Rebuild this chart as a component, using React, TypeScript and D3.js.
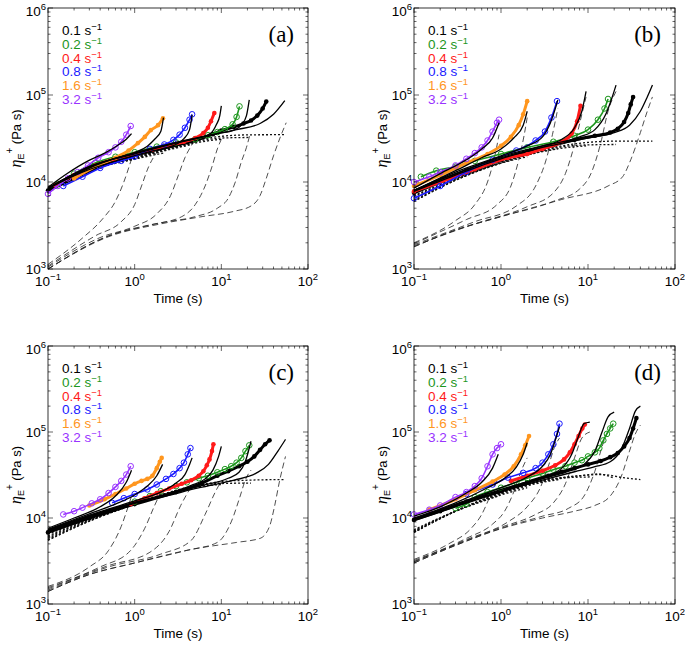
import * as React from "react";
import * as d3 from "d3";

type Pt = [number, number];

// strain rates, in legend order
const rates: string[] = ["0.1", "0.2", "0.4", "0.8", "1.6", "3.2"];
const rateColors: string[] = ["#000000", "#1c961c", "#ff1a1a", "#1a1aff", "#ff961e", "#9933ff"];
const rateFilled: boolean[] = [true, false, true, false, true, false];
const panelNames: string[] = ["(a)", "(b)", "(c)", "(d)"];
const timeDecades: number[] = [-1, 0, 1, 2];
const etaDecades: number[] = [3, 4, 5, 6];

// ---- panel (a) ----
const aData: Pt[][] = [
  [[0.1, 8000], [0.2, 11000], [0.4, 15000], [0.8, 19000], [1.5, 22500], [3, 26500], [5, 30000], [8, 35500], [10, 39000], [14, 43000], [18, 47000], [22, 51000], [26, 58000], [30, 70000], [33, 84000]],
  [[0.13, 9500], [0.2, 12500], [0.35, 16500], [0.6, 19500], [1, 22000], [1.8, 25500], [3, 28500], [5, 31000], [7, 34500], [9, 37500], [11, 40500], [13.5, 46000], [15, 56000], [16.2, 74000]],
  [[0.12, 9200], [0.2, 12000], [0.35, 15500], [0.6, 18500], [1, 21000], [1.6, 23500], [2.5, 26500], [3.7, 29000], [5, 32000], [6.2, 36500], [7, 42000], [7.6, 50000], [8.3, 62000]],
  [[0.15, 9000], [0.25, 11500], [0.4, 14500], [0.7, 17500], [1, 19500], [1.5, 24000], [2.2, 27000], [2.8, 30500], [3.3, 35000], [3.8, 42000], [4.3, 52000], [4.6, 60000]],
  [[0.2, 11000], [0.4, 16000], [0.6, 19000], [0.85, 23000], [1.09, 28000], [1.31, 33000], [1.54, 39500], [1.86, 45000], [2.12, 54000]],
  [[0.1, 7300], [0.13, 9000], [0.17, 11000], [0.22, 13000], [0.29, 15500], [0.38, 19000], [0.5, 22000], [0.6, 25000], [0.7, 29000], [0.8, 35000], [0.9, 44000]],
];
const aSolid: Pt[][] = [
  [[0.1, 8400], [0.3, 15000], [1, 21000], [3, 28000], [8, 35000], [15, 40000], [28, 47000], [40, 60000], [54, 86000]],
  [[0.1, 8500], [0.3, 15000], [1, 21500], [3, 28500], [9, 36000], [14, 39500], [17, 45000], [19.5, 58000], [21, 88000]],
  [[0.1, 8400], [0.4, 16300], [1.5, 24000], [3.7, 29500], [5.8, 32500], [7.6, 36500], [8.8, 46000], [9.6, 58000], [10, 75000]],
  [[0.1, 8500], [0.25, 13000], [0.62, 17600], [1.5, 22400], [2.4, 25000], [3.1, 27500], [3.7, 31500], [4.3, 40000], [4.6, 59000]],
  [[0.1, 8500], [0.16, 11000], [0.25, 13600], [0.4, 16600], [0.62, 19000], [1, 21800], [1.4, 25800], [1.7, 31000], [2, 38000], [2.15, 55000]],
  [[0.1, 8700], [0.17, 12700], [0.29, 17500], [0.45, 21500], [0.64, 26500], [0.8, 31000], [0.92, 36000]],
];
const aDashed: Pt[][] = [
  [[0.1, 1000], [0.5, 2350], [2, 3300], [6, 4000], [14, 4600], [22, 5300], [28, 7000], [33, 11000], [40, 20000], [48, 33000], [56, 48000]],
  [[0.1, 1000], [0.5, 2400], [2, 3400], [5, 4000], [9, 5000], [12, 6500], [14.5, 10000], [17, 17000], [19.5, 25000], [21.2, 34000]],
  [[0.1, 1000], [0.5, 2400], [1.5, 3200], [3.5, 4000], [5, 5500], [6.5, 9000], [7.8, 15000], [9, 24000], [10, 31000]],
  [[0.1, 1050], [0.4, 2300], [1, 3100], [1.8, 4300], [2.6, 7000], [3.2, 12000], [3.8, 19000], [4.6, 27000]],
  [[0.1, 1080], [0.35, 2400], [0.7, 3500], [1, 5500], [1.2, 9000], [1.45, 15000], [1.8, 22000], [2.15, 28000]],
  [[0.1, 1130], [0.25, 2270], [0.43, 3800], [0.6, 6000], [0.75, 10000], [0.88, 16000], [0.93, 19000]],
];
const aDotted: Pt[][] = [
  [[0.1, 7600], [0.3, 13500], [1, 19000], [3, 26000], [6, 31000], [10, 33500], [20, 34800], [55, 35000]],
  [[0.1, 7600], [0.3, 13500], [1, 19000], [3, 25500], [6, 30000], [10, 32000], [21, 32500]],
  [[0.1, 7700], [0.3, 13500], [1, 18800], [3, 25000], [6, 29000], [10, 31000]],
  [[0.1, 7800], [0.3, 13500], [1, 18500], [2.5, 23500], [4.6, 27000]],
  [[0.1, 7900], [0.3, 13500], [1, 18300], [2.15, 21500]],
  [[0.1, 8000], [0.3, 13500], [0.6, 16500], [0.92, 18500]],
];

// ---- panel (b) ----
const bData: Pt[][] = [
  [[0.1, 7500], [0.2, 10000], [0.4, 13500], [1, 18000], [2, 22000], [4, 26500], [7, 30500], [12, 34000], [18, 37000], [22, 41000], [26, 49000], [29, 62000], [31, 78000], [33, 95000]],
  [[0.12, 11500], [0.18, 13500], [0.3, 15000], [0.5, 17500], [1, 21000], [2, 25000], [4, 29000], [7, 34000], [10, 40000], [13, 52000], [15.5, 70000], [17, 90000]],
  [[0.1, 7800], [0.2, 10000], [0.5, 14000], [1.2, 19000], [2, 21000], [3, 24000], [5, 29000], [6.5, 36000], [7.5, 50000], [8.2, 75000]],
  [[0.1, 6500], [0.2, 9000], [0.4, 13000], [0.8, 18000], [1.5, 23000], [2.5, 30000], [3.2, 38000], [3.8, 55000], [4.4, 85000]],
  [[0.1, 9000], [0.2, 12000], [0.4, 16500], [0.7, 21000], [1, 26000], [1.3, 33000], [1.6, 45000], [1.8, 60000], [2, 85000]],
  [[0.1, 10000], [0.15, 11500], [0.2, 13000], [0.3, 15500], [0.4, 18500], [0.5, 21500], [0.6, 25000], [0.7, 30000], [0.8, 38000], [0.9, 48000], [0.95, 52000]],
];
const bSolid: Pt[][] = [
  [[0.1, 7800], [0.3, 12000], [1, 18500], [3, 25000], [10, 32000], [20, 37000], [30, 45000], [40, 65000], [48, 95000], [55, 130000]],
  [[0.1, 8000], [0.3, 12500], [1, 19500], [3, 26000], [8, 33000], [12, 40000], [16, 60000], [19, 95000], [21, 130000]],
  [[0.1, 8000], [0.3, 12500], [1, 19000], [3, 26000], [5, 31000], [7, 42000], [8.5, 65000], [9.5, 110000]],
  [[0.1, 8000], [0.3, 13000], [1, 20000], [2, 26000], [3, 33000], [3.7, 48000], [4.3, 75000], [4.5, 88000]],
  [[0.1, 8000], [0.3, 13500], [0.6, 19000], [1, 24000], [1.4, 32000], [1.8, 45000], [2, 65000]],
  [[0.1, 8500], [0.2, 12500], [0.4, 18000], [0.6, 24000], [0.8, 32000], [0.95, 48000]],
];
const bDashed: Pt[][] = [
  [[0.1, 1800], [0.3, 2800], [1, 4000], [5, 6300], [17, 9000], [25, 11500], [31, 18000], [40, 37000], [48, 65000], [55, 95000]],
  [[0.1, 1800], [0.3, 2800], [1, 4000], [4, 6000], [8, 8300], [11, 13000], [14, 28000], [17, 65000], [21, 110000]],
  [[0.1, 1850], [0.5, 3300], [2, 5200], [4, 7500], [5.5, 12500], [7, 27000], [8.5, 60000], [9.5, 95000]],
  [[0.1, 1900], [0.5, 3500], [1.5, 5300], [2.5, 9000], [3.3, 18000], [3.9, 35000], [4.5, 70000]],
  [[0.1, 1950], [0.4, 3700], [0.9, 5500], [1.3, 9000], [1.6, 18000], [1.85, 35000], [2, 55000]],
  [[0.1, 2000], [0.3, 3600], [0.5, 5500], [0.7, 10000], [0.85, 20000], [0.95, 35000]],
];
const bDotted: Pt[][] = [
  [[0.1, 6000], [0.3, 10500], [1, 17000], [3, 23500], [10, 28500], [20, 29500], [55, 29500]],
  [[0.1, 6000], [0.3, 10500], [1, 16800], [3, 23000], [8, 26500], [21, 27000]],
  [[0.1, 6200], [0.3, 10500], [1, 16500], [3, 22500], [6, 25000], [9.5, 26000]],
  [[0.1, 6500], [0.3, 10800], [1, 16500], [2.5, 21500], [4.5, 24000]],
  [[0.1, 6800], [0.3, 11000], [1, 16500], [2, 19500]],
  [[0.1, 7000], [0.3, 11000], [0.6, 14500], [0.95, 17000]],
];

// ---- panel (c) ----
const cData: Pt[][] = [
  [[0.1, 6800], [0.3, 10000], [1, 14500], [3, 20000], [6, 25500], [9, 31000], [12, 35000], [16, 40000], [20, 45000], [24, 52000], [28, 62000], [32, 72000], [36, 80000]],
  [[1, 15500], [1.5, 18000], [2, 20500], [3, 23500], [4, 26000], [5.5, 29000], [7, 31000], [9, 34000], [11, 37000], [13, 40000], [15, 44000], [17, 50000], [19, 60000], [21, 70000]],
  [[0.9, 14500], [1.3, 17000], [1.8, 19500], [2.5, 22000], [3.5, 25000], [4.5, 27500], [5.5, 31000], [6.2, 35000], [6.8, 41000], [7.3, 48000], [7.8, 60000], [8.1, 72000]],
  [[0.55, 15000], [0.75, 17000], [1, 19000], [1.4, 21500], [1.8, 24500], [2.3, 28500], [2.8, 32500], [3.3, 38000], [3.7, 44000], [4.1, 55000], [4.4, 65000]],
  [[0.3, 14000], [0.45, 16500], [0.6, 19000], [0.8, 22000], [1, 25000], [1.2, 27000], [1.4, 28500], [1.6, 31000], [1.8, 38000], [1.95, 45000], [2.05, 50000]],
  [[0.15, 11000], [0.2, 12000], [0.25, 13200], [0.32, 14800], [0.4, 16500], [0.5, 19500], [0.6, 23000], [0.7, 27000], [0.8, 32000], [0.9, 40000]],
];
const cSolid: Pt[][] = [
  [[0.1, 7000], [0.3, 10300], [1, 14800], [2.3, 18000], [5.6, 22500], [14, 27500], [25, 33000], [35, 42000], [45, 60000], [55, 82000]],
  [[0.1, 7100], [0.3, 10500], [1, 15000], [2.3, 18500], [5.6, 23500], [12, 29000], [16, 34000], [19, 46000], [22, 78000]],
  [[0.1, 7200], [0.3, 10600], [1, 15300], [2.3, 19000], [4.5, 24000], [6.5, 28500], [8, 36000], [9.3, 52000], [10, 68000]],
  [[0.1, 7300], [0.3, 10800], [1, 15800], [2, 20000], [3, 25500], [3.8, 32000], [4.3, 42000], [4.6, 50000]],
  [[0.1, 7400], [0.3, 11200], [0.6, 14500], [1, 18500], [1.4, 23500], [1.8, 31000], [2.1, 42000]],
  [[0.1, 7600], [0.2, 10000], [0.4, 13500], [0.6, 18000], [0.8, 26000], [0.92, 36000]],
];
const cDashed: Pt[][] = [
  [[0.1, 1400], [0.3, 2200], [1, 3000], [5, 4400], [15, 5200], [28, 5800], [36, 8000], [41, 13500], [47, 27000], [55, 52000]],
  [[0.1, 1400], [0.3, 2200], [1, 3000], [4, 4200], [9, 5200], [13, 9000], [16.5, 18000], [19, 28000], [22, 36000]],
  [[0.1, 1450], [0.5, 2700], [2, 3800], [4.5, 5500], [6.5, 11000], [8.5, 20000], [10, 27000]],
  [[0.1, 1500], [0.5, 2800], [1.5, 4000], [2.5, 7000], [3.4, 14000], [4.6, 24000]],
  [[0.1, 1550], [0.4, 2700], [0.9, 4200], [1.3, 7500], [1.7, 14000], [2.1, 22000]],
  [[0.1, 1600], [0.3, 2700], [0.5, 4200], [0.7, 8000], [0.85, 14000], [0.92, 18000]],
];
const cDotted: Pt[][] = [
  [[0.1, 5500], [0.3, 9200], [1, 14500], [3, 21000], [10, 26500], [20, 27500], [55, 28000]],
  [[0.1, 5600], [0.3, 9200], [1, 14500], [3, 20800], [8, 25000], [22, 25500]],
  [[0.1, 5800], [0.3, 9300], [1, 14500], [3, 20500], [6, 23500], [10, 24500]],
  [[0.1, 6000], [0.3, 9500], [1, 14500], [2.5, 19500], [4.6, 22500]],
  [[0.1, 6200], [0.3, 9600], [1, 14500], [2.1, 18000]],
  [[0.1, 6500], [0.3, 9800], [0.6, 12500], [0.92, 14500]],
];

// ---- panel (d) ----
const dData: Pt[][] = [
  [[0.1, 9500], [0.2, 12000], [0.4, 15500], [0.7, 18500], [1, 20500], [2, 26000], [3.5, 31000], [5, 34500], [7, 38000], [10, 42000], [14, 46000], [18, 51000], [22, 57000], [26, 68000], [30, 85000], [33, 110000], [36, 145000]],
  [[0.3, 13000], [0.4, 14500], [0.5, 17500], [0.7, 20000], [1, 22500], [1.5, 26000], [2, 29000], [3, 33000], [4, 36500], [5.5, 40000], [7, 44000], [8.5, 47000], [10, 52000], [12, 58000], [13.5, 65000], [15, 80000], [16.5, 95000], [18, 110000], [19.5, 125000]],
  [[1.3, 27000], [2, 31000], [3, 35500], [4.2, 41000], [5.3, 48000], [6.2, 58000], [7, 72000], [7.8, 90000], [8.6, 110000], [9.2, 122000]],
  [[0.4, 19000], [0.8, 24500], [1.2, 29500], [1.8, 33500], [2.5, 38000], [3, 44000], [3.5, 55000], [4, 72000], [4.4, 95000], [4.7, 125000]],
  [[0.15, 12500], [0.3, 16500], [0.5, 21000], [0.8, 26500], [1.1, 32000], [1.4, 40000], [1.7, 55000], [1.9, 70000], [2.1, 90000]],
  [[0.1, 11000], [0.15, 12500], [0.2, 14000], [0.3, 17500], [0.4, 20000], [0.5, 23500], [0.6, 29000], [0.7, 40000], [0.8, 55000], [0.9, 65000], [1, 72000]],
];
const dSolid: Pt[][] = [
  [[0.1, 9300], [0.3, 13500], [1, 20000], [3, 27500], [7, 34500], [12, 39500], [18, 45000], [24, 62000], [30, 110000], [35, 175000], [40, 200000]],
  [[0.1, 9500], [0.3, 13800], [1, 20500], [3, 28500], [6, 35000], [9, 42000], [12, 60000], [14.5, 100000], [17, 150000], [20, 170000]],
  [[0.1, 9600], [0.3, 14000], [1, 21500], [3, 30000], [5, 38000], [6.5, 55000], [7.8, 90000], [9, 125000], [10.5, 130000]],
  [[0.1, 9800], [0.3, 14500], [1, 22500], [2, 30000], [3, 40000], [3.7, 55000], [4.2, 80000], [4.7, 115000]],
  [[0.1, 10000], [0.3, 15000], [0.7, 22500], [1.1, 29000], [1.5, 39000], [1.8, 55000], [2, 75000]],
  [[0.1, 10500], [0.2, 13500], [0.4, 19500], [0.6, 26000], [0.8, 38000], [0.93, 55000]],
];
const dDashed: Pt[][] = [
  [[0.1, 3000], [0.3, 4800], [1, 7500], [3, 10000], [7, 12000], [12, 14000], [18, 18000], [24, 30000], [30, 60000], [35, 95000], [40, 120000]],
  [[0.1, 3000], [0.3, 4800], [1, 7600], [3, 10500], [6, 13000], [9, 18000], [12, 35000], [15, 75000], [18, 115000], [20, 125000]],
  [[0.1, 3100], [0.3, 4900], [1, 7800], [2.5, 11000], [4, 15000], [5.5, 25000], [7, 50000], [8.5, 85000], [10.5, 100000]],
  [[0.1, 3100], [0.4, 5600], [1.2, 9000], [2, 13500], [2.8, 22000], [3.5, 40000], [4.2, 70000], [4.7, 85000]],
  [[0.1, 3200], [0.4, 5800], [0.8, 8500], [1.1, 12000], [1.4, 20000], [1.7, 35000], [2, 50000]],
  [[0.1, 3300], [0.25, 5000], [0.45, 7500], [0.6, 11000], [0.75, 18000], [0.93, 30000]],
];
const dDotted: Pt[][] = [
  [[0.1, 6800], [0.3, 12000], [1, 19500], [3, 27000], [8, 31000], [15, 32000], [25, 29500], [40, 28000]],
  [[0.1, 6800], [0.3, 12000], [1, 19500], [3, 27000], [8, 31000], [13, 32500], [20, 29000]],
  [[0.1, 6900], [0.3, 12000], [1, 19500], [3, 26500], [6, 29500], [10.5, 30000]],
  [[0.1, 7000], [0.3, 12000], [1, 19000], [2.5, 25000], [4.7, 28000]],
  [[0.1, 7100], [0.3, 12000], [1, 18500], [2, 22500]],
  [[0.1, 7300], [0.3, 12000], [0.6, 15500], [0.93, 18000]],
];

interface Box {
  left: number;
  right: number;
  top: number;
  bottom: number;
}

const boxes: Box[] = [
  { left: 48, right: 308, top: 8, bottom: 269 },
  { left: 414, right: 675, top: 8, bottom: 269 },
  { left: 48, right: 308, top: 346, bottom: 604 },
  { left: 414, right: 675, top: 346, bottom: 604 },
];

const panelSets = [
  { data: aData, solid: aSolid, dashed: aDashed, dotted: aDotted },
  { data: bData, solid: bSolid, dashed: bDashed, dotted: bDotted },
  { data: cData, solid: cSolid, dashed: cDashed, dotted: cDotted },
  { data: dData, solid: dSolid, dashed: dDashed, dotted: dDotted },
];

const FONT = "'Liberation Sans', Arial, sans-serif";
const SERIF = "'Liberation Serif', 'Times New Roman', serif";

interface PanelProps {
  box: Box;
  name: string;
  data: Pt[][];
  solid: Pt[][];
  dashed: Pt[][];
  dotted: Pt[][];
}

function Panel(props: PanelProps): JSX.Element {
  const { box, name } = props;
  const x = d3.scaleLog().domain([0.1, 100]).range([box.left, box.right]);
  const y = d3.scaleLog().domain([1e3, 1e6]).range([box.bottom, box.top]);
  const line = d3.line<Pt>().x((d) => x(d[0])).y((d) => y(d[1])).curve(d3.curveMonotoneX);
  const isMajor = (v: number): boolean => Math.abs(Math.log10(v) - Math.round(Math.log10(v))) < 1e-6;
  const cy = (box.top + box.bottom) / 2;
  const cx = (box.left + box.right) / 2;

  return (
    <g>
      {/* dashed model component */}
      {props.dashed.map((s, i) => (
        <path key={"da" + i} d={line(s) || ""} fill="none" stroke="#222" strokeWidth={0.8} strokeDasharray="6,3.5" />
      ))}
      {/* dotted model component */}
      {props.dotted.map((s, i) => (
        <path key={"do" + i} d={line(s) || ""} fill="none" stroke="#111" strokeWidth={1.3} strokeDasharray="2,2" />
      ))}
      {/* measured data */}
      {props.data.map((s, i) => (
        <g key={"m" + i}>
          <path d={line(s) || ""} fill="none" stroke={rateColors[i]} strokeWidth={rateFilled[i] ? 3 : 1.6} />
          {s.map((p, j) =>
            rateFilled[i] ? (
              <circle key={j} cx={x(p[0])} cy={y(p[1])} r={2.3} fill={rateColors[i]} />
            ) : (
              <circle key={j} cx={x(p[0])} cy={y(p[1])} r={2.8} fill="none" stroke={rateColors[i]} strokeWidth={1} />
            )
          )}
        </g>
      ))}
      {/* full model */}
      {props.solid.map((s, i) => (
        <path key={"s" + i} d={line(s) || ""} fill="none" stroke="#000" strokeWidth={1.3} />
      ))}

      <rect x={box.left} y={box.top} width={box.right - box.left} height={box.bottom - box.top}
        fill="none" stroke="#000" strokeWidth={0.8} />

      {x.ticks().map((v, i) => {
        const len = isMajor(v) ? 5 : 2.5;
        return (
          <g key={"xt" + i} stroke="#000" strokeWidth={0.6}>
            <line x1={x(v)} x2={x(v)} y1={box.bottom} y2={box.bottom - len} />
            <line x1={x(v)} x2={x(v)} y1={box.top} y2={box.top + len} />
          </g>
        );
      })}
      {y.ticks().map((v, i) => {
        const len = isMajor(v) ? 5 : 2.5;
        return (
          <g key={"yt" + i} stroke="#000" strokeWidth={0.6}>
            <line x1={box.left} x2={box.left + len} y1={y(v)} y2={y(v)} />
            <line x1={box.right} x2={box.right - len} y1={y(v)} y2={y(v)} />
          </g>
        );
      })}

      {timeDecades.map((p) => (
        <text key={"xl" + p} x={x(Math.pow(10, p))} y={box.bottom + 17} textAnchor="middle"
          fontFamily={FONT} fontSize={13.5} fill="#000">
          10<tspan fontSize={9.5} dy={-6}>{p < 0 ? "\u2212" + Math.abs(p) : String(p)}</tspan>
        </text>
      ))}
      {etaDecades.map((p) => (
        <text key={"yl" + p} x={box.left - 2} y={y(Math.pow(10, p)) + (p === 6 ? 8 : 5)} textAnchor="end"
          fontFamily={FONT} fontSize={13.5} fill="#000">
          10<tspan fontSize={9.5} dy={-6}>{String(p)}</tspan>
        </text>
      ))}

      <text x={cx} y={box.bottom + 34} textAnchor="middle" fontFamily={FONT} fontSize={13.5} fill="#000">
        Time (s)
      </text>
      <text transform={`translate(${box.left - 27},${cy}) rotate(-90)`} textAnchor="middle"
        fontFamily={FONT} fontSize={13} fill="#000">
        <tspan fontFamily={SERIF} fontStyle="italic" fontSize={16}>{"\u03b7"}</tspan>
        <tspan fontSize={9} dy={3}>E</tspan>
        <tspan fontSize={10} dy={-11}>+</tspan>
        <tspan dy={8}>{" (Pa s)"}</tspan>
      </text>

      {rates.map((r, i) => (
        <text key={"lg" + i} x={box.left + 14} y={box.top + 27 + i * 13.8} fontFamily={FONT}
          fontSize={13.5} fill={rateColors[i]}>
          {r} s<tspan fontSize={9.5} dy={-5}>{"\u22121"}</tspan>
        </text>
      ))}

      <text x={box.right - 14} y={box.top + 34} textAnchor="end" fontFamily={SERIF} fontSize={23} fill="#000">
        {name}
      </text>
    </g>
  );
}

export default function App(): JSX.Element {
  return (
    <svg width={685} height={646} style={{ position: "absolute", left: 0, top: 0, background: "#fff" }}>
      {boxes.map((b, k) => (
        <Panel key={k} box={b} name={panelNames[k]} data={panelSets[k].data} solid={panelSets[k].solid}
          dashed={panelSets[k].dashed} dotted={panelSets[k].dotted} />
      ))}
    </svg>
  );
}
